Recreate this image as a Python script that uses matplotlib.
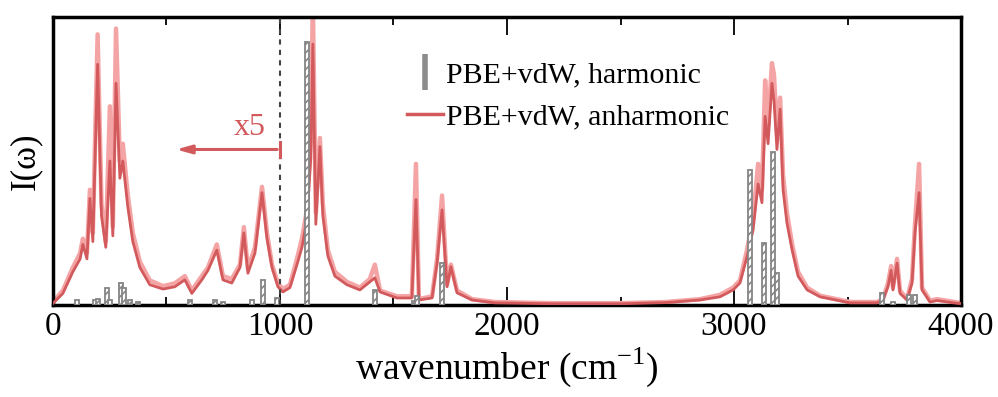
import matplotlib.pyplot as plt
from matplotlib.lines import Line2D
from matplotlib.ticker import MultipleLocator

# anharmonic spectrum (dark line and its lighter envelope)
wn = [0, 44, 88, 120, 132, 150, 163, 176, 197, 214, 233, 251, 264, 278, 295, 308,
      330, 352, 383, 427, 485, 537, 581, 612, 656, 683, 722, 749, 788, 824, 841,
      859, 890, 921, 943, 965, 991, 1013, 1044, 1075, 1097, 1119, 1136, 1145,
      1158, 1176, 1189, 1211, 1242, 1295, 1352, 1396, 1418, 1441, 1515, 1581,
      1599, 1612, 1670, 1692, 1714, 1736, 1753, 1780, 1846, 1947, 2200, 2500,
      2700, 2850, 2938, 2996, 3026, 3057, 3084, 3106, 3123, 3137, 3150, 3167,
      3176, 3189, 3203, 3216, 3233, 3256, 3282, 3322, 3379, 3511, 3630, 3656,
      3678, 3692, 3700, 3718, 3731, 3762, 3784, 3797, 3815, 3828, 3863, 3894,
      3987, 4000]
anharm = [0.005, 0.04, 0.115, 0.16, 0.21, 0.16, 0.37, 0.22, 0.836, 0.31, 0.20,
          0.50, 0.24, 0.77, 0.44, 0.50, 0.34, 0.22, 0.13, 0.07, 0.055, 0.063,
          0.087, 0.04, 0.087, 0.12, 0.19, 0.087, 0.076, 0.13, 0.25, 0.11, 0.18,
          0.39, 0.23, 0.13, 0.063, 0.045, 0.06, 0.14, 0.20, 0.30, 0.51, 0.906,
          0.28, 0.55, 0.31, 0.17, 0.10, 0.07, 0.052, 0.08, 0.094, 0.045, 0.024,
          0.024, 0.366, 0.017, 0.024, 0.145, 0.33, 0.063, 0.133, 0.042, 0.017,
          0.007, 0.004, 0.004, 0.008, 0.017, 0.028, 0.052, 0.076, 0.167, 0.26,
          0.42, 0.355, 0.655, 0.56, 0.77, 0.71, 0.54, 0.68, 0.40, 0.285, 0.19,
          0.10, 0.052, 0.028, 0.007, 0.007, 0.017, 0.063, 0.12, 0.052, 0.145,
          0.04, 0.017, 0.076, 0.25, 0.39, 0.052, 0.01, 0.015, 0.005, 0.005]
anharm_env = [0.01, 0.05, 0.13, 0.18, 0.23, 0.18, 0.40, 0.25, 0.94, 0.35, 0.22,
              0.69, 0.27, 0.96, 0.50, 0.56, 0.38, 0.25, 0.15, 0.085, 0.065, 0.075,
              0.10, 0.05, 0.10, 0.13, 0.21, 0.10, 0.09, 0.14, 0.27, 0.125, 0.20,
              0.41, 0.25, 0.14, 0.075, 0.055, 0.07, 0.16, 0.23, 0.33, 0.60, 1.05,
              0.32, 0.58, 0.35, 0.19, 0.115, 0.08, 0.06, 0.09, 0.14, 0.05, 0.03,
              0.03, 0.49, 0.02, 0.03, 0.16, 0.38, 0.07, 0.14, 0.05, 0.02,
              0.01, 0.006, 0.006, 0.01, 0.02, 0.035, 0.06, 0.085, 0.19, 0.30,
              0.49, 0.40, 0.78, 0.62, 0.84, 0.80, 0.60, 0.72, 0.45, 0.32, 0.21,
              0.115, 0.06, 0.032, 0.01, 0.01, 0.02, 0.075, 0.135, 0.06, 0.16,
              0.05, 0.02, 0.09, 0.28, 0.49, 0.06, 0.015, 0.02, 0.008, 0.008]

# harmonic stick spectrum
harm_wn = [106, 185, 198, 238, 251, 300, 315, 339, 374, 603, 713, 749, 877, 925,
           987, 1119, 1418, 1590, 1603, 1714, 3070, 3132, 3172, 3189, 3652, 3700,
           3771, 3797]
harm_int = [0.017, 0.017, 0.02, 0.06, 0.017, 0.076, 0.06, 0.017, 0.01, 0.017,
            0.017, 0.01, 0.017, 0.087, 0.024, 0.913, 0.052, 0.015, 0.03, 0.145,
            0.47, 0.216, 0.53, 0.11, 0.04, 0.01, 0.035, 0.035]

red = '#d35a5c'
pink = '#f4a4a4'
plt.rcParams['font.family'] = 'Liberation Serif'
plt.rcParams['hatch.linewidth'] = 1.2

fig = plt.figure(figsize=(9.98, 3.97), dpi=100)
ax = fig.add_axes([0.053, 0.232, 0.910, 0.725])

ax.plot(wn, anharm_env, color=pink, lw=3.2, zorder=2)
ax.plot(wn, anharm, color=red, lw=2.0, zorder=3)
ax.bar(harm_wn, harm_int, width=18, facecolor='white', edgecolor='#858585',
       hatch='////', linewidth=1.3, zorder=4)

ax.axvline(1000, color='#444444', ls=(0, (2.5, 2.5)), lw=1.5, zorder=5)
ax.annotate('', xy=(530, 0.54), xytext=(1000, 0.54),
            arrowprops=dict(arrowstyle='-|>,head_length=0.9,head_width=0.25',
                            color=red, lw=2.2))
ax.plot([1000, 1000], [0.515, 0.565], color=red, lw=2.2, zorder=6)
ax.text(868, 0.615, 'x5', color=red, fontsize=23, ha='center', va='center')

ax.set_xlim(0, 4000)
ax.set_ylim(0, 1.0)
ax.xaxis.set_major_locator(MultipleLocator(1000))
ax.xaxis.set_minor_locator(MultipleLocator(500))
ax.tick_params(axis='x', which='both', direction='in', top=True, labelsize=24, pad=5)
ax.tick_params(axis='x', which='major', length=13, width=1.3)
ax.tick_params(axis='x', which='minor', length=6, width=1.3)
ax.set_yticks([])
for s in ax.spines.values():
    s.set_linewidth(2.5)

ax.set_xlabel('wavenumber (cm$^{\\mathregular{-1}}$)', fontsize=27, labelpad=2)
ax.set_ylabel('I(ω)', fontsize=25, labelpad=8)

handles = [Line2D([], [], color='#8c8c8c', marker='|', ls='none', markersize=26,
                  markeredgewidth=4),
           Line2D([], [], color=red, lw=2.5)]
ax.legend(handles, ['PBE+vdW, harmonic', 'PBE+vdW, anharmonic'], frameon=False,
          fontsize=21.5, loc='upper left', bbox_to_anchor=(0.36, 0.94),
          handlelength=1.2, handletextpad=0.1, labelspacing=0.5)

plt.savefig('out.png', dpi=100)
